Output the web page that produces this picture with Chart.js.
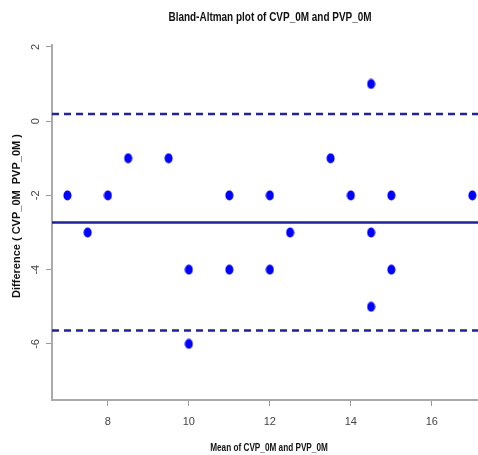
<!DOCTYPE html>
<html>
<head>
<meta charset="utf-8">
<script src="https://cdn.jsdelivr.net/npm/chart.js@4"></script>
<style>
  html, body { margin: 0; padding: 0; background: #fff; }
  #wrap { width: 478px; height: 455px; }
</style>
</head>
<body>
<div id="wrap"><canvas id="baChart" width="478" height="455"></canvas></div>
<script>
// data
const meanVals = [7, 7.5, 8, 8.5, 9.5, 10, 10, 11, 11, 12, 12, 12.5, 13.5, 14, 14.5, 14.5, 14.5, 15, 15, 17];
const diffVals = [-2, -3, -2, -1, -1, -4, -6, -2, -4, -2, -4, -3, -1, -2, 1, -3, -5, -2, -4, -2];
const biasLine = -2.73;
const upperLoA = 0.19;
const lowerLoA = -5.64;
const xTicks = [8, 10, 12, 14, 16];
const yTicks = [2, 0, -2, -4, -6];
const xRange = [6.62, 17.14];
const yRange = [-7.51, 2.05];

const TITLE = 'Bland-Altman plot of CVP_0M and PVP_0M';
const X_TITLE = 'Mean of CVP_0M and PVP_0M';
const Y_TITLE = 'Difference ( CVP_0M  PVP_0M )';
const FONT = '"Liberation Sans", Arial, sans-serif';
const LINE_COL = '#22229a';

// R-style filled ellipse marker
const dot = document.createElement('canvas');
dot.width = 9; dot.height = 11;
(function () {
  const c = dot.getContext('2d');
  c.fillStyle = '#0000ff';
  c.beginPath();
  c.ellipse(4.5, 5.5, 4, 5, 0, 0, Math.PI * 2);
  c.fill();
})();

const hLine = y => [{ x: xRange[0], y }, { x: xRange[1], y }];

// narrow text, the reference uses a condensed face
function narrowText(ctx, text, x, y, sx) {
  ctx.save();
  ctx.translate(x, y);
  ctx.scale(sx, 1);
  ctx.fillText(text, 0, 0);
  ctx.restore();
}

const rText = {
  id: 'rText',
  afterDraw(chart) {
    const { ctx, chartArea, scales } = chart;
    ctx.save();
    ctx.fillStyle = '#111';
    ctx.textAlign = 'center';
    ctx.textBaseline = 'middle';
    ctx.font = 'bold 12px ' + FONT;
    narrowText(ctx, TITLE, 270, 18, 0.83);

    ctx.font = 'bold 10px ' + FONT;
    narrowText(ctx, X_TITLE, 269, 448, 0.82);

    ctx.translate(17, 216);
    ctx.rotate(-Math.PI / 2);
    ctx.font = 'bold 11px ' + FONT;
    ctx.fillText(Y_TITLE, 0, 0);
    ctx.restore();

    // rotated y tick labels like R's default
    ctx.save();
    ctx.fillStyle = '#444';
    ctx.font = '11px ' + FONT;
    ctx.textAlign = 'center';
    ctx.textBaseline = 'middle';
    yTicks.forEach(v => {
      const py = scales.y.getPixelForValue(v);
      ctx.save();
      ctx.translate(36, py);
      ctx.rotate(-Math.PI / 2);
      ctx.fillText(String(v), 0, 0);
      ctx.restore();
    });
    ctx.restore();
  }
};

new Chart(document.getElementById('baChart').getContext('2d'), {
  type: 'scatter',
  data: {
    datasets: [
      {
        label: 'Upper LoA',
        type: 'line',
        data: hLine(upperLoA),
        borderColor: LINE_COL,
        borderWidth: 2.5,
        borderDash: [7, 5],
        pointRadius: 0,
        order: 2,
      },
      {
        label: 'Bias',
        type: 'line',
        data: hLine(biasLine),
        borderColor: LINE_COL,
        borderWidth: 2.5,
        pointRadius: 0,
        order: 2,
      },
      {
        label: 'Lower LoA',
        type: 'line',
        data: hLine(lowerLoA),
        borderColor: LINE_COL,
        borderWidth: 2.5,
        borderDash: [7, 5],
        pointRadius: 0,
        order: 2,
      },
      {
        label: 'Differences',
        data: meanVals.map((m, i) => ({ x: m, y: diffVals[i] })),
        pointStyle: dot,
        order: 1,
      },
    ],
  },
  options: {
    responsive: false,
    animation: false,
    layout: { autoPadding: false, padding: { top: 45, left: 0, right: 0, bottom: 0 } },
    plugins: {
      legend: { display: false },
      tooltip: { enabled: false },
    },
    scales: {
      x: {
        type: 'linear',
        min: xRange[0],
        max: xRange[1],
        afterBuildTicks: s => { s.ticks = xTicks.map(v => ({ value: v })); },
        afterFit: s => { s.height = 55; },
        ticks: { color: '#444', font: { size: 11, family: FONT }, padding: 9 },
        grid: { drawOnChartArea: false, tickLength: 6, tickColor: '#999', tickWidth: 1 },
        border: { color: '#aaa', width: 2 },
      },
      y: {
        type: 'linear',
        min: yRange[0],
        max: yRange[1],
        afterBuildTicks: s => { s.ticks = yTicks.map(v => ({ value: v })); },
        afterFit: s => { s.width = 52; },
        ticks: { display: false },
        grid: { drawOnChartArea: false, tickLength: 6, tickColor: '#999', tickWidth: 1 },
        border: { color: '#aaa', width: 2 },
      },
    },
  },
  plugins: [rText],
});
</script>
</body>
</html>
